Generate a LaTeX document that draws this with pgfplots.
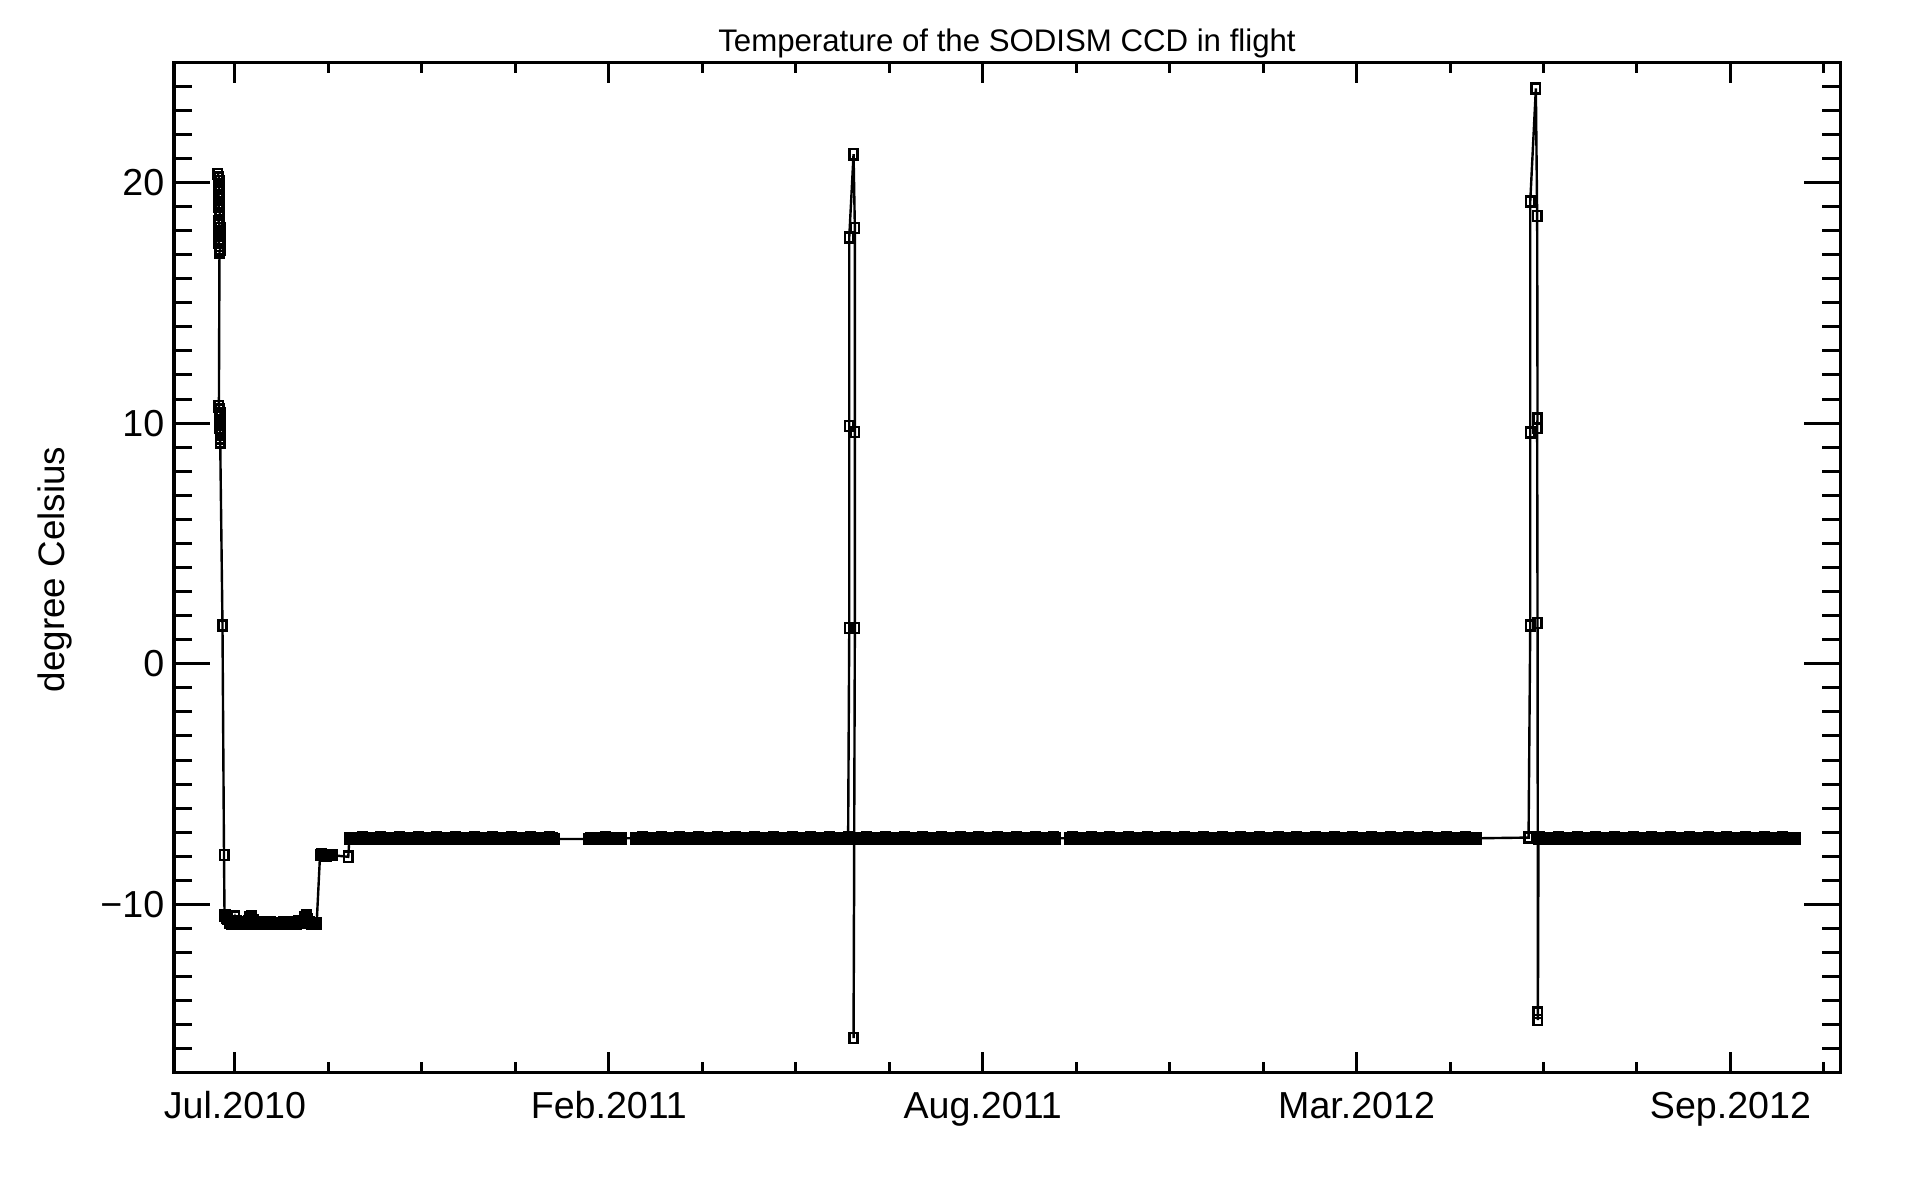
\documentclass[border=0pt]{standalone}
\usepackage{fontspec}
\setmainfont{Liberation Sans}
\usepackage{pgfplots}
\pgfplotsset{compat=1.18}
\begin{document}
\begin{tikzpicture}
\path[use as bounding box] (-43.5pt,-26.25pt) rectangle (436.5pt,268.25pt);
% axis 1: data, frame, y ticks
\begin{axis}[
  scale only axis, width=416.5pt, height=252.75pt,
  xmin=-32.63, xmax=858.6, ymin=-17, ymax=25,
  axis line style={line width=0.75pt, black},
  xtick=\empty,
  ytick={-10,0,10,20}, yticklabels={−10,0,10,20},
  minor ytick={-16,-15,-14,-13,-12,-11,-9,-8,-7,-6,-5,-4,-3,-2,-1,1,2,3,4,5,6,7,8,9,11,12,13,14,15,16,17,18,19,21,22,23,24},
  major tick length=9pt, minor tick length=4.5pt,
  tick style={line width=0.75pt, black},
  tick align=inside,
  yticklabel style={font=\fontsize{9.4}{11}\selectfont, anchor=east, inner sep=0pt, xshift=-2.25pt},
]
\addplot[black, line width=0.6pt, mark=square, mark size=1.05pt,
  mark options={solid, yscale=1.2, line width=0.65pt}] coordinates {
(-9.1,20.35)(-8.6,20.2)(-8.3,20.05)(-9.0,19.9)(-8.55,19.75)(-8.2,19.6)(-8.9,19.45)(-8.5,19.3)(-8.15,19.15)(-8.8,19.0)(-8.45,18.85)(-8.1,18.7)
(-8.8,18.4)(-8.4,18.25)(-8.0,18.1)(-8.75,17.95)(-8.35,17.8)(-7.95,17.65)(-8.7,17.5)(-8.3,17.35)(-7.95,17.2)(-8.3,17.1)
(-8.6,10.7)(-8.1,10.55)(-7.7,10.4)(-8.5,10.25)(-8.05,10.1)(-7.65,9.95)(-8.4,9.8)(-8.0,9.65)(-7.6,9.5)(-8.0,9.35)(-7.9,9.2)
(-6.69,1.6)(-5.88,-7.94)(-5.6,-10.45)
(-5,-10.45)(-4.5,-10.55)(-4,-10.6)(-3,-10.75)(-2,-10.78)(-1,-10.7)(0,-10.5)(1,-10.7)(2,-10.78)(3,-10.78)(4,-10.76)(5,-10.78)(6,-10.78)(7,-10.7)(8,-10.55)(9,-10.5)(10,-10.65)(11,-10.78)(12,-10.78)(13,-10.76)(14,-10.78)(15,-10.78)(16,-10.77)(17,-10.78)(18,-10.78)(19,-10.76)(20,-10.78)(21,-10.78)(22,-10.78)(23,-10.77)(24,-10.78)(25,-10.78)(26,-10.76)(27,-10.78)(28,-10.78)(29,-10.78)(30,-10.77)(31,-10.78)(32,-10.76)(33,-10.78)(34,-10.7)(35,-10.75)(36,-10.7)(37,-10.55)(38,-10.45)(39,-10.6)(40,-10.75)(41,-10.78)(42,-10.78)(43,-10.78)(43.7,-10.78)
(45.5,-7.94)(46,-7.95)(46.5,-7.93)(47,-7.94)(47.5,-7.95)(48,-7.95)(48.5,-7.94)(49,-7.96)(49.5,-7.95)(50,-7.95)(50.5,-7.94)(51,-7.94)(51.5,-7.95)(52,-7.95)
(60.6,-8.02)(61.2,-7.25)
(62,-7.25)(63,-7.24)(64,-7.25)(65,-7.27)(66,-7.25)(67,-7.25)(68,-7.23)(69,-7.25)
(70,-7.25)(71,-7.26)(72,-7.25)(73,-7.24)(74,-7.25)(75,-7.27)(76,-7.25)(77,-7.25)(78,-7.23)(79,-7.25)
(80,-7.25)(81,-7.26)(82,-7.25)(83,-7.24)(84,-7.25)(85,-7.27)(86,-7.25)(87,-7.25)(88,-7.23)(89,-7.25)
(90,-7.25)(91,-7.26)(92,-7.25)(93,-7.24)(94,-7.25)(95,-7.27)(96,-7.25)(97,-7.25)(98,-7.23)(99,-7.25)
(100,-7.25)(101,-7.26)(102,-7.25)(103,-7.24)(104,-7.25)(105,-7.27)(106,-7.25)(107,-7.25)(108,-7.23)(109,-7.25)
(110,-7.25)(111,-7.26)(112,-7.25)(113,-7.24)(114,-7.25)(115,-7.27)(116,-7.25)(117,-7.25)(118,-7.23)(119,-7.25)
(120,-7.25)(121,-7.26)(122,-7.25)(123,-7.24)(124,-7.25)(125,-7.27)(126,-7.25)(127,-7.25)(128,-7.23)(129,-7.25)
(130,-7.25)(131,-7.26)(132,-7.25)(133,-7.24)(134,-7.25)(135,-7.27)(136,-7.25)(137,-7.25)(138,-7.23)(139,-7.25)
(140,-7.25)(141,-7.26)(142,-7.25)(143,-7.24)(144,-7.25)(145,-7.27)(146,-7.25)(147,-7.25)(148,-7.23)(149,-7.25)
(150,-7.25)(151,-7.26)(152,-7.25)(153,-7.24)(154,-7.25)(155,-7.27)(156,-7.25)(157,-7.25)(158,-7.23)(159,-7.25)
(160,-7.25)(161,-7.26)(162,-7.25)(163,-7.24)(164,-7.25)(165,-7.27)(166,-7.25)(167,-7.25)(168,-7.23)(169,-7.25)
(170,-7.25)(171,-7.28)
(189,-7.28)(190,-7.25)(191,-7.26)(192,-7.25)(193,-7.24)(194,-7.25)(195,-7.27)(196,-7.25)(197,-7.25)(198,-7.23)(199,-7.25)
(200,-7.25)(201,-7.26)(202,-7.25)(203,-7.24)(204,-7.25)(205,-7.27)(206,-7.25)(207,-7.25)
(214,-7.25)(215,-7.27)(216,-7.25)(217,-7.25)(218,-7.23)(219,-7.25)
(220,-7.25)(221,-7.26)(222,-7.25)(223,-7.24)(224,-7.25)(225,-7.27)(226,-7.25)(227,-7.25)(228,-7.23)(229,-7.25)
(230,-7.25)(231,-7.26)(232,-7.25)(233,-7.24)(234,-7.25)(235,-7.27)(236,-7.25)(237,-7.25)(238,-7.23)(239,-7.25)
(240,-7.25)(241,-7.26)(242,-7.25)(243,-7.24)(244,-7.25)(245,-7.27)(246,-7.25)(247,-7.25)(248,-7.23)(249,-7.25)
(250,-7.25)(251,-7.26)(252,-7.25)(253,-7.24)(254,-7.25)(255,-7.27)(256,-7.25)(257,-7.25)(258,-7.23)(259,-7.25)
(260,-7.25)(261,-7.26)(262,-7.25)(263,-7.24)(264,-7.25)(265,-7.27)(266,-7.25)(267,-7.25)(268,-7.23)(269,-7.25)
(270,-7.25)(271,-7.26)(272,-7.25)(273,-7.24)(274,-7.25)(275,-7.27)(276,-7.25)(277,-7.25)(278,-7.23)(279,-7.25)
(280,-7.25)(281,-7.26)(282,-7.25)(283,-7.24)(284,-7.25)(285,-7.27)(286,-7.25)(287,-7.25)(288,-7.23)(289,-7.25)
(290,-7.25)(291,-7.26)(292,-7.25)(293,-7.24)(294,-7.25)(295,-7.27)(296,-7.25)(297,-7.25)(298,-7.23)(299,-7.25)
(300,-7.25)(301,-7.26)(302,-7.25)(303,-7.24)(304,-7.25)(305,-7.27)(306,-7.25)(307,-7.25)(308,-7.23)(309,-7.25)
(310,-7.25)(311,-7.26)(312,-7.25)(313,-7.24)(314,-7.25)(315,-7.27)(316,-7.25)(317,-7.25)(318,-7.23)(319,-7.25)
(320,-7.25)(321,-7.26)(322,-7.25)(323,-7.24)(324,-7.25)(325,-7.27)(326,-7.25)(327,-7.25)(328,-7.23)
(328.6,1.49)(328.6,9.88)(328.6,17.72)(330.9,21.17)(331.6,18.1)(331.6,9.63)(331.6,1.49)(330.9,-15.55)(331.3,-7.25)
(332,-7.25)(333,-7.24)(334,-7.25)(335,-7.27)(336,-7.25)(337,-7.25)(338,-7.23)(339,-7.25)
(340,-7.25)(341,-7.26)(342,-7.25)(343,-7.24)(344,-7.25)(345,-7.27)(346,-7.25)(347,-7.25)(348,-7.23)(349,-7.25)
(350,-7.25)(351,-7.26)(352,-7.25)(353,-7.24)(354,-7.25)(355,-7.27)(356,-7.25)(357,-7.25)(358,-7.23)(359,-7.25)
(360,-7.25)(361,-7.26)(362,-7.25)(363,-7.24)(364,-7.25)(365,-7.27)(366,-7.25)(367,-7.25)(368,-7.23)(369,-7.25)
(370,-7.25)(371,-7.26)(372,-7.25)(373,-7.24)(374,-7.25)(375,-7.27)(376,-7.25)(377,-7.25)(378,-7.23)(379,-7.25)
(380,-7.25)(381,-7.26)(382,-7.25)(383,-7.24)(384,-7.25)(385,-7.27)(386,-7.25)(387,-7.25)(388,-7.23)(389,-7.25)
(390,-7.25)(391,-7.26)(392,-7.25)(393,-7.24)(394,-7.25)(395,-7.27)(396,-7.25)(397,-7.25)(398,-7.23)(399,-7.25)
(400,-7.25)(401,-7.26)(402,-7.25)(403,-7.24)(404,-7.25)(405,-7.27)(406,-7.25)(407,-7.25)(408,-7.23)(409,-7.25)
(410,-7.25)(411,-7.26)(412,-7.25)(413,-7.24)(414,-7.25)(415,-7.27)(416,-7.25)(417,-7.25)(418,-7.23)(419,-7.25)
(420,-7.25)(421,-7.26)(422,-7.25)(423,-7.24)(424,-7.25)(425,-7.27)(426,-7.25)(427,-7.25)(428,-7.23)(429,-7.25)
(430,-7.25)(431,-7.26)(432,-7.25)(433,-7.24)(434,-7.25)(435,-7.27)(436,-7.25)(437,-7.25)(438,-7.23)(439,-7.25)
(446.5,-7.25)(447,-7.25)(448,-7.23)(449,-7.25)
(450,-7.25)(451,-7.26)(452,-7.25)(453,-7.24)(454,-7.25)(455,-7.27)(456,-7.25)(457,-7.25)(458,-7.23)(459,-7.25)
(460,-7.25)(461,-7.26)(462,-7.25)(463,-7.24)(464,-7.25)(465,-7.27)(466,-7.25)(467,-7.25)(468,-7.23)(469,-7.25)
(470,-7.25)(471,-7.26)(472,-7.25)(473,-7.24)(474,-7.25)(475,-7.27)(476,-7.25)(477,-7.25)(478,-7.23)(479,-7.25)
(480,-7.25)(481,-7.26)(482,-7.25)(483,-7.24)(484,-7.25)(485,-7.27)(486,-7.25)(487,-7.25)(488,-7.23)(489,-7.25)
(490,-7.25)(491,-7.26)(492,-7.25)(493,-7.24)(494,-7.25)(495,-7.27)(496,-7.25)(497,-7.25)(498,-7.23)(499,-7.25)
(500,-7.25)(501,-7.26)(502,-7.25)(503,-7.24)(504,-7.25)(505,-7.27)(506,-7.25)(507,-7.25)(508,-7.23)(509,-7.25)
(510,-7.25)(511,-7.26)(512,-7.25)(513,-7.24)(514,-7.25)(515,-7.27)(516,-7.25)(517,-7.25)(518,-7.23)(519,-7.25)
(520,-7.25)(521,-7.26)(522,-7.25)(523,-7.24)(524,-7.25)(525,-7.27)(526,-7.25)(527,-7.25)(528,-7.23)(529,-7.25)
(530,-7.25)(531,-7.26)(532,-7.25)(533,-7.24)(534,-7.25)(535,-7.27)(536,-7.25)(537,-7.25)(538,-7.23)(539,-7.25)
(540,-7.25)(541,-7.26)(542,-7.25)(543,-7.24)(544,-7.25)(545,-7.27)(546,-7.25)(547,-7.25)(548,-7.23)(549,-7.25)
(550,-7.25)(551,-7.26)(552,-7.25)(553,-7.24)(554,-7.25)(555,-7.27)(556,-7.25)(557,-7.25)(558,-7.23)(559,-7.25)
(560,-7.25)(561,-7.26)(562,-7.25)(563,-7.24)(564,-7.25)(565,-7.27)(566,-7.25)(567,-7.25)(568,-7.23)(569,-7.25)
(570,-7.25)(571,-7.26)(572,-7.25)(573,-7.24)(574,-7.25)(575,-7.27)(576,-7.25)(577,-7.25)(578,-7.23)(579,-7.25)
(580,-7.25)(581,-7.26)(582,-7.25)(583,-7.24)(584,-7.25)(585,-7.27)(586,-7.25)(587,-7.25)(588,-7.23)(589,-7.25)
(590,-7.25)(591,-7.26)(592,-7.25)(593,-7.24)(594,-7.25)(595,-7.27)(596,-7.25)(597,-7.25)(598,-7.23)(599,-7.25)
(600,-7.25)(601,-7.26)(602,-7.25)(603,-7.24)(604,-7.25)(605,-7.27)(606,-7.25)(607,-7.25)(608,-7.23)(609,-7.25)
(610,-7.25)(611,-7.26)(612,-7.25)(613,-7.24)(614,-7.25)(615,-7.27)(616,-7.25)(617,-7.25)(618,-7.23)(619,-7.25)
(620,-7.25)(621,-7.26)(622,-7.25)(623,-7.24)(624,-7.25)(625,-7.27)(626,-7.25)(627,-7.25)(628,-7.23)(629,-7.25)
(630,-7.25)(631,-7.26)(632,-7.25)(633,-7.24)(634,-7.25)(635,-7.27)(636,-7.25)(637,-7.25)(638,-7.23)(639,-7.25)
(640,-7.25)(641,-7.26)(642,-7.25)(643,-7.24)(644,-7.25)(645,-7.27)(646,-7.25)(647,-7.25)(648,-7.23)(649,-7.25)
(650,-7.25)(651,-7.26)(652,-7.25)(653,-7.24)(654,-7.25)(655,-7.27)(656,-7.25)(657,-7.25)(658,-7.23)(659,-7.25)
(660,-7.25)(661,-7.26)(662,-7.25)(663,-7.24)(664,-7.25)
(692,-7.22)(692.9,1.6)(692.9,9.6)(692.9,19.2)(695.9,23.9)(696.6,18.6)(696.8,10.2)(696.6,9.8)(696.8,1.7)(697.0,-14.5)(697.0,-14.8)(697.3,-7.25)
(698,-7.23)(699,-7.25)
(700,-7.25)(701,-7.26)(702,-7.25)(703,-7.24)(704,-7.25)(705,-7.27)(706,-7.25)(707,-7.25)(708,-7.23)(709,-7.25)
(710,-7.25)(711,-7.26)(712,-7.25)(713,-7.24)(714,-7.25)(715,-7.27)(716,-7.25)(717,-7.25)(718,-7.23)(719,-7.25)
(720,-7.25)(721,-7.26)(722,-7.25)(723,-7.24)(724,-7.25)(725,-7.27)(726,-7.25)(727,-7.25)(728,-7.23)(729,-7.25)
(730,-7.25)(731,-7.26)(732,-7.25)(733,-7.24)(734,-7.25)(735,-7.27)(736,-7.25)(737,-7.25)(738,-7.23)(739,-7.25)
(740,-7.25)(741,-7.26)(742,-7.25)(743,-7.24)(744,-7.25)(745,-7.27)(746,-7.25)(747,-7.25)(748,-7.23)(749,-7.25)
(750,-7.25)(751,-7.26)(752,-7.25)(753,-7.24)(754,-7.25)(755,-7.27)(756,-7.25)(757,-7.25)(758,-7.23)(759,-7.25)
(760,-7.25)(761,-7.26)(762,-7.25)(763,-7.24)(764,-7.25)(765,-7.27)(766,-7.25)(767,-7.25)(768,-7.23)(769,-7.25)
(770,-7.25)(771,-7.26)(772,-7.25)(773,-7.24)(774,-7.25)(775,-7.27)(776,-7.25)(777,-7.25)(778,-7.23)(779,-7.25)
(780,-7.25)(781,-7.26)(782,-7.25)(783,-7.24)(784,-7.25)(785,-7.27)(786,-7.25)(787,-7.25)(788,-7.23)(789,-7.25)
(790,-7.25)(791,-7.26)(792,-7.25)(793,-7.24)(794,-7.25)(795,-7.27)(796,-7.25)(797,-7.25)(798,-7.23)(799,-7.25)
(800,-7.25)(801,-7.26)(802,-7.25)(803,-7.24)(804,-7.25)(805,-7.27)(806,-7.25)(807,-7.25)(808,-7.23)(809,-7.25)
(810,-7.25)(811,-7.26)(812,-7.25)(813,-7.24)(814,-7.25)(815,-7.27)(816,-7.25)(817,-7.25)(818,-7.23)(819,-7.25)
(820,-7.25)(821,-7.26)(822,-7.25)(823,-7.24)(824,-7.25)(825,-7.27)(826,-7.25)(827,-7.25)(828,-7.23)(829,-7.25)
(830,-7.25)(831,-7.26)(832,-7.25)(833,-7.24)(834,-7.25)(835,-7.27)
};
\end{axis}
% axis 2: x ticks and labels
\begin{axis}[
  scale only axis, width=416.5pt, height=252.75pt,
  xmin=-32.63, xmax=858.6, ymin=-17, ymax=25,
  axis line style={line width=0.75pt, black},
  ytick=\empty,
  xtick={0,200,400,600,800},
  xticklabels={Jul.2010,Feb.2011,Aug.2011,Mar.2012,Sep.2012},
  minor xtick={50,100,150,250,300,350,450,500,550,650,700,750,850},
  major tick length=5.25pt, minor tick length=2.75pt,
  tick style={line width=0.75pt, black},
  tick align=inside,
  xticklabel style={font=\fontsize{9.4}{11}\selectfont, anchor=base, inner sep=0pt, yshift=-11.5pt},
]
\end{axis}
\node[anchor=base, font=\fontsize{7.8}{9}\selectfont] at (208.25pt,255.35pt) {Temperature of the SODISM CCD in flight};
\node[rotate=90, anchor=base, font=\fontsize{9.2}{11}\selectfont] at (-27.25pt,125.9pt) {degree Celsius};
\end{tikzpicture}
\end{document}
